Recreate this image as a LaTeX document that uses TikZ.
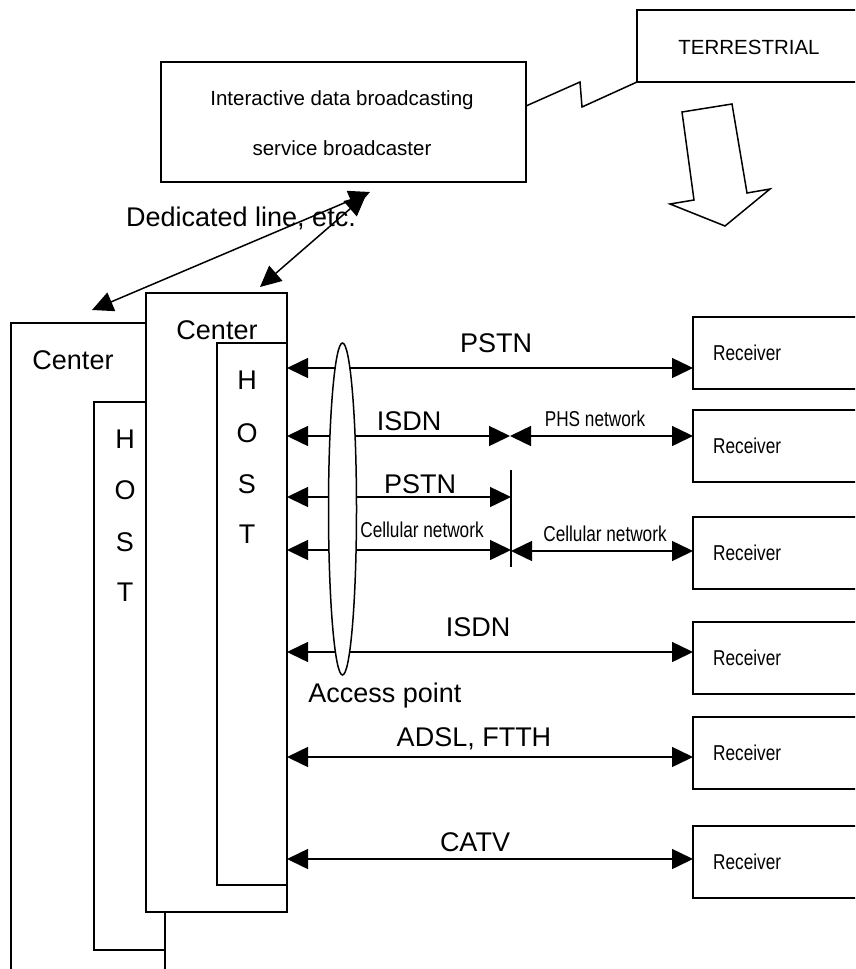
\documentclass[tikz,border=0pt]{standalone}
\usepackage{fontspec}
\setmainfont{Liberation Sans}
\newfontfamily\narrowsans[FakeStretch=0.8]{Liberation Sans}
\usetikzlibrary{arrows.meta,shapes.geometric}

\begin{document}
\begin{tikzpicture}[x=1pt, y=-1pt, line join=miter,
  box/.style={draw, line width=1.5pt, fill=white, inner sep=0pt, outer sep=0pt, anchor=north west},
  link/.style={line width=1.5pt, {Triangle[length=21pt,width=20pt]}-{Triangle[length=21pt,width=20pt]}},
  big/.style={font=\fontsize{27}{30}\selectfont, inner sep=0pt, text height=19.3pt, text depth=0pt},
  mid/.style={font=\fontsize{20.5}{24}\selectfont, inner sep=0pt, text height=14.7pt, text depth=0pt},
  small/.style={font=\narrowsans\fontsize{21.5}{24}\selectfont, inner sep=0pt, text height=15.4pt, text depth=0pt},
]
\useasboundingbox (0,0) rectangle (855,969);
\clip (0,0) rectangle (855,969);

% broadcaster and terrestrial transmitter
\node[box, minimum width=365pt, minimum height=120pt] (bc) at (161,62) {};
\node[mid] at (342,98) {Interactive data broadcasting};
\node[mid] at (342,148) {service broadcaster};
\node[box, minimum width=240pt, minimum height=72pt] (terr) at (637,10) {};
\node[mid] at (749,47) {TERRESTRIAL};

% radio link
\draw[line width=1.5pt] (bc.east |- 0,106) -- (580,82) -- (582,107) -- (terr.south west);

% hollow broadcast arrow
\draw[line width=1.5pt, fill=white] (682,112) -- (732,104) -- (747,193) -- (770,189)
  -- (725,226) -- (670,204) -- (694,200) -- cycle;

% centers and hosts
\node[box, minimum width=154pt, minimum height=700pt] (outer) at (11,323) {};
\node[box, minimum width=71pt, minimum height=548pt] (hostL) at (94,402) {};
\node[box, minimum width=141pt, minimum height=619pt] (center2) at (146,293) {};
\node[box, minimum width=70pt, minimum height=542pt] (hostR) at (217,343) {};

\node[big] at (73,360) {Center};
\node[big] at (217,330) {Center};
\foreach \ch/\yy in {H/439, O/490, S/542, T/592} \node[big] at (125,\yy) {\ch};
\foreach \ch/\yy in {H/380, O/433, S/484, T/534} \node[big] at (247,\yy) {\ch};

% dedicated lines
\node[big] (dltext) at (241,217) {Dedicated line, etc.};
\coordinate (dlA) at (370,192);
\coordinate (dlB) at (366,195);
\coordinate (outerIn) at (92,310);
\coordinate (centerIn) at (260,287);
\draw[link] (dlA) -- (outerIn);
\draw[link] (dlB) -- (centerIn);

% receivers
\foreach \n/\top in {1/317, 2/410, 3/517, 4/622, 5/717, 6/826} {
  \node[box, minimum width=200pt, minimum height=72pt] (rx\n) at (693,\top) {};
  \node[small, anchor=west] at (713,\top+36) {Receiver};
}

% relay point
\coordinate (j2) at (510,436);
\coordinate (barT) at (511,470);
\coordinate (barB) at (511,567);
\draw[line width=1.5pt] (barT) -- (barB);

% access lines
\draw[link] (hostR.east |- 0,368) -- (rx1.west |- 0,368);
\draw[link] (hostR.east |- 0,436) -- (j2);
\draw[link] (j2) -- (rx2.west |- 0,436);
\draw[link] (hostR.east |- 0,497) -- (barT |- 0,497);
\draw[link] (hostR.east |- 0,550) -- (barT |- 0,550);
\draw[link] (barT |- 0,551) -- (rx3.west |- 0,551);
\draw[link] (hostR.east |- 0,652) -- (rx4.west |- 0,652);
\draw[link] (hostR.east |- 0,757) -- (rx5.west |- 0,757);
\draw[link] (hostR.east |- 0,859) -- (rx6.west |- 0,859);

% access point
\node[draw, ellipse, line width=1.5pt, fill=white, inner sep=0pt,
  minimum width=28pt, minimum height=332pt] (ap) at (342.5,509) {};

% line labels
\node[big] at (496,343) {PSTN};
\node[big] at (409,421) {ISDN};
\node[small] at (595,419) {PHS network};
\node[big] at (420,484) {PSTN};
\node[small] at (422,530) {Cellular network};
\node[small] at (605,534) {Cellular network};
\node[big] at (478,627) {ISDN};
\node[big] at (385,693) {Access point};
\node[big] at (474,737) {ADSL, FTTH};
\node[big] at (475,842) {CATV};
\end{tikzpicture}
\end{document}
